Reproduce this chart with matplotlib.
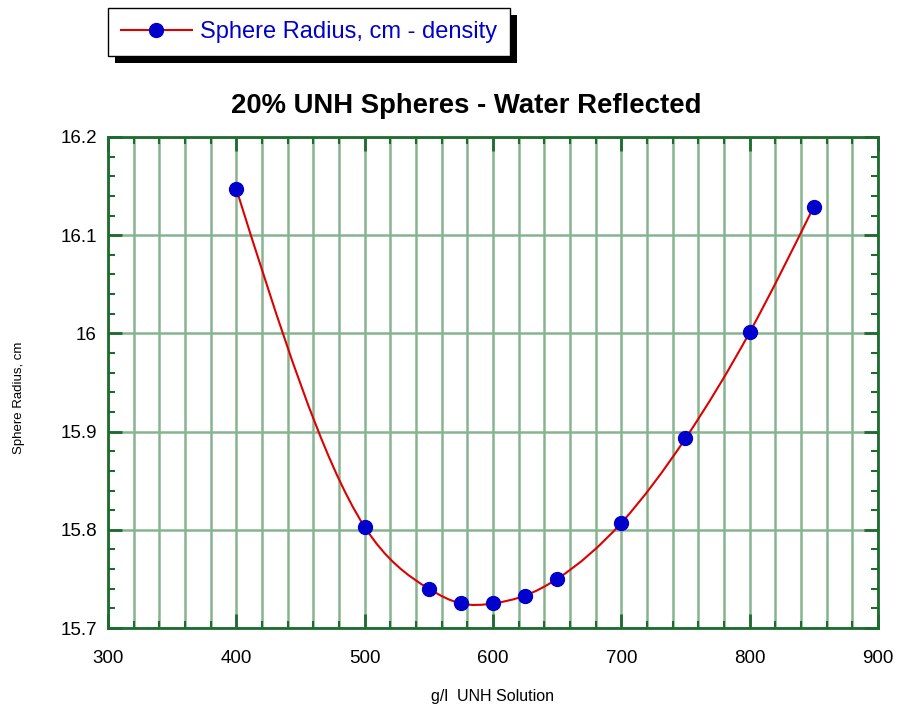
import matplotlib
matplotlib.use('Agg')
import matplotlib.pyplot as plt
import numpy as np
from matplotlib.path import Path
from matplotlib.patches import PathPatch, Rectangle
from matplotlib.lines import Line2D
from matplotlib.ticker import MultipleLocator

plt.rcParams['font.family'] = ['Liberation Sans', 'DejaVu Sans']

# data
density = [400, 500, 550, 575, 600, 625, 650, 700, 750, 800, 850]
radius = [16.147, 15.803, 15.740, 15.725, 15.725, 15.733, 15.750,
          15.807, 15.893, 16.001, 16.129]

grid_col = '#86b48e'
axis_col = '#1d6b2e'

fig = plt.figure(figsize=(8.99, 7.13), dpi=100)
ax = fig.add_axes([0.1201, 0.1192, 0.8565, 0.6887])

# natural cubic spline through the points, drawn as bezier segments
x = np.array(density, dtype=float)
y = np.array(radius)
n = len(x)
h = np.diff(x)
A = np.zeros((n, n))
b = np.zeros(n)
A[0, 0] = A[-1, -1] = 1
for i in range(1, n - 1):
    A[i, i - 1] = h[i - 1]
    A[i, i] = 2 * (h[i - 1] + h[i])
    A[i, i + 1] = h[i]
    b[i] = 6 * ((y[i + 1] - y[i]) / h[i] - (y[i] - y[i - 1]) / h[i - 1])
M = np.linalg.solve(A, b)
m = np.zeros(n)
for i in range(n - 1):
    m[i] = (y[i + 1] - y[i]) / h[i] - h[i] * (2 * M[i] + M[i + 1]) / 6
m[-1] = (y[-1] - y[-2]) / h[-1] + h[-1] * (M[-2] + 2 * M[-1]) / 6

verts = [(x[0], y[0])]
codes = [Path.MOVETO]
for i in range(n - 1):
    d = h[i] / 3
    verts += [(x[i] + d, y[i] + d * m[i]),
              (x[i + 1] - d, y[i + 1] - d * m[i + 1]),
              (x[i + 1], y[i + 1])]
    codes += [Path.CURVE4] * 3
ax.add_patch(PathPatch(Path(verts, codes), facecolor='none',
                       edgecolor='#dd0000', lw=1.5, zorder=3))
ax.plot(density, radius, 'o', color='#0000cc', ms=10, zorder=4)

ax.set_xlim(300, 900)
ax.set_ylim(15.7, 16.2)
ax.xaxis.set_major_locator(MultipleLocator(100))
ax.xaxis.set_minor_locator(MultipleLocator(20))
ax.yaxis.set_major_locator(MultipleLocator(0.1))
ax.yaxis.set_minor_locator(MultipleLocator(0.02))
ax.yaxis.set_major_formatter(plt.FuncFormatter(lambda v, p: '%g' % round(v, 2)))

ax.grid(True, which='both', axis='x', color=grid_col, lw=1.8, zorder=1)
ax.grid(True, which='major', axis='y', color=grid_col, lw=1.8, zorder=1)
ax.set_axisbelow(True)

ax.tick_params(which='both', direction='in', top=True, right=True,
               color=axis_col, labelsize=13.5)
ax.tick_params(axis='y', pad=8)
ax.tick_params(axis='x', pad=16)
ax.tick_params(which='major', length=10, width=2)
ax.tick_params(which='minor', length=5, width=1.5)
for s in ax.spines.values():
    s.set_color(axis_col)
    s.set_linewidth(2)

ax.set_title('20% UNH Spheres - Water Reflected', fontsize=19.8,
             fontweight='bold', pad=17, x=0.465)
ax.set_ylabel('Sphere Radius, cm', fontsize=9.5)
ax.yaxis.set_label_coords(-0.108, 0.468)
ax.set_xlabel('g/l  UNH Solution', fontsize=11.5, labelpad=16)

handle = Line2D([], [], color='#dd0000', lw=1.5, marker='o',
                mfc='#0000cc', mec='#0000cc', ms=10)
leg = fig.legend([handle], ['Sphere Radius, cm - density'],
                 loc='upper left', bbox_to_anchor=(108 / 899, 1 - 8 / 713),
                 fontsize=17, labelcolor='#0000cc', frameon=True,
                 fancybox=False, edgecolor='black', framealpha=1,
                 handlelength=3.0, handletextpad=0.35, borderpad=0.55,
                 borderaxespad=0)
leg.get_frame().set_linewidth(1)

# black drop shadow behind the legend box
fig.canvas.draw()
bb = leg.get_window_extent().transformed(fig.transFigure.inverted())
fig.add_artist(Rectangle((bb.x0 + 7 / 899, bb.y0 - 7 / 713), bb.width, bb.height,
                         transform=fig.transFigure, facecolor='black',
                         edgecolor='none', zorder=0))

fig.savefig('out.png', dpi=100)
